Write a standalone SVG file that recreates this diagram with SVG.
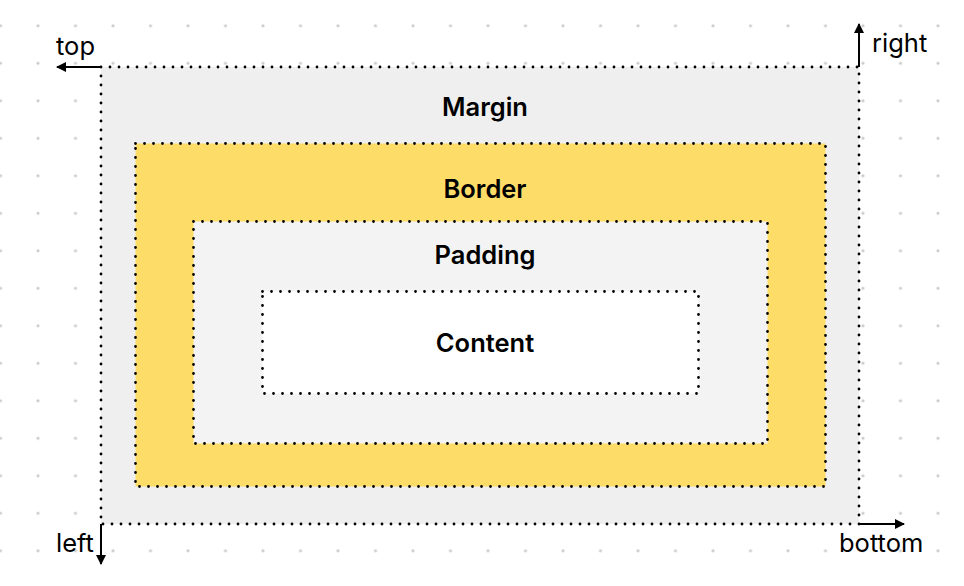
<svg xmlns="http://www.w3.org/2000/svg" width="964" height="586" viewBox="0 0 964 586">
<defs>
<pattern id="grid" x="-18.25" y="7" width="37.5" height="37.5" patternUnits="userSpaceOnUse">
<circle cx="18.75" cy="18.75" r="1.6" fill="#cbcbcb"/>
</pattern>
<marker id="ah" viewBox="0 0 10 10" refX="9" refY="5" markerWidth="10" markerHeight="10" markerUnits="userSpaceOnUse" orient="auto">
<path d="M0,0 L10,5 L0,10 Z" fill="#000"/>
</marker>
<style>
.box{stroke:#000;stroke-width:2.8;stroke-dasharray:0 9;stroke-linecap:round}
.title{font-family:Inter,"Noto Sans",sans-serif;font-weight:600;font-size:25.5px;fill:#000;text-anchor:middle}
.lbl{font-family:Inter,"Noto Sans",sans-serif;font-size:25.5px;fill:#000}
.arr{stroke:#000;stroke-width:2;fill:none;marker-end:url(#ah)}
</style>
</defs>
<rect width="964" height="586" fill="#fff"/>
<rect width="964" height="586" fill="url(#grid)"/>
<g id="margin">
<rect class="box" x="101" y="67" width="758" height="457" fill="#efefef"/>
<text class="title" x="485" y="116">Margin</text>
</g>
<g id="border">
<rect class="box" x="135.5" y="143.5" width="690" height="343" fill="#fedc68"/>
<text class="title" x="485" y="198">Border</text>
</g>
<g id="padding">
<rect class="box" x="193.5" y="221.5" width="574" height="222" fill="#f3f3f3"/>
<text class="title" x="485" y="264">Padding</text>
</g>
<g id="content">
<rect class="box" x="262.5" y="291.5" width="436" height="102" fill="#fff"/>
<text class="title" x="485" y="352">Content</text>
</g>
<g id="connectors">
<line class="arr" x1="101" y1="67" x2="57" y2="67"/>
<line class="arr" x1="859" y1="67" x2="859" y2="24"/>
<line class="arr" x1="101" y1="524" x2="101" y2="564"/>
<line class="arr" x1="859" y1="524" x2="904" y2="524"/>
</g>
<g id="labels">
<text class="lbl" x="56" y="55">top</text>
<text class="lbl" x="872" y="52">right</text>
<text class="lbl" x="56" y="552">left</text>
<text class="lbl" x="839" y="552">bottom</text>
</g>
</svg>
